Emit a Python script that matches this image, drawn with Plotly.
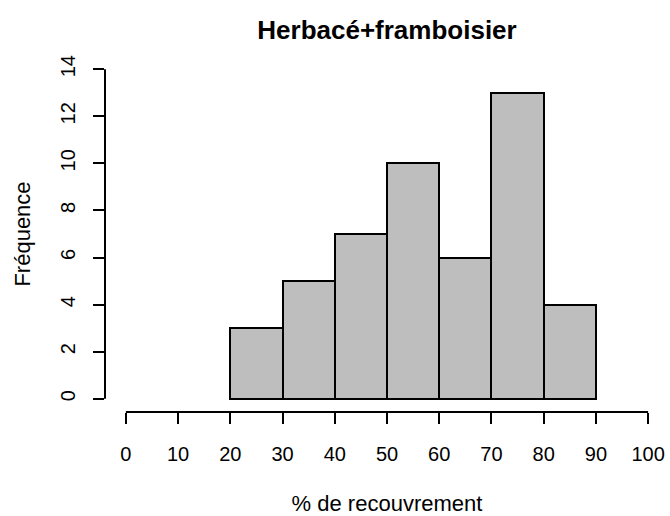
import plotly.graph_objects as go

bin_left = [20, 30, 40, 50, 60, 70, 80]
counts = [3, 5, 7, 10, 6, 13, 4]
bin_width = 10
x_ticks = [0, 10, 20, 30, 40, 50, 60, 70, 80, 90, 100]
y_ticks = [0, 2, 4, 6, 8, 10, 12, 14]

centers = [b + bin_width / 2 for b in bin_left]

FONT = "Liberation Sans, Arial, Helvetica, sans-serif"

W, H = 670, 516

fig = go.Figure()
fig.add_trace(go.Bar(
    x=centers, y=counts, width=[bin_width] * len(counts),
    marker=dict(color="#BEBEBE", line=dict(color="black", width=2)),
    hoverinfo="x+y",
))

fig.update_layout(
    width=W, height=H,
    margin=dict(l=105, r=1, t=56, b=104),
    paper_bgcolor="white", plot_bgcolor="white",
    showlegend=False,
    bargap=0,
    font=dict(family=FONT, size=22, color="black"),
    title=dict(text="<b>Herbacé+framboisier</b>", x=0.5, xref="paper",
               xanchor="center", y=1 - 30 / H, yanchor="middle",
               font=dict(size=26, family=FONT, color="black")),
    xaxis=dict(range=[-4, 104], tickvals=x_ticks, ticktext=[str(v) for v in x_ticks],
               showgrid=False, zeroline=False, showline=False, automargin=False,
               ticks="outside", ticklen=11, tickwidth=2, tickcolor="black",
               tickfont=dict(size=20), ticklabelstandoff=13,
               title=dict(text="% de recouvrement", font=dict(size=22), standoff=36)),
    yaxis=dict(range=[-0.56, 14.56], tickvals=y_ticks, ticktext=[str(v) for v in y_ticks],
               showgrid=False, zeroline=False, showline=False, automargin=False,
               ticks="outside", ticklen=11, tickwidth=2, tickcolor="black",
               tickangle=-90, tickfont=dict(size=20), ticklabelstandoff=10,
               title=dict(text="Fréquence", font=dict(size=22), standoff=20)),
    shapes=[
        dict(type="line", xref="x", yref="paper", x0=x_ticks[0], x1=x_ticks[-1], y0=0, y1=0,
             line=dict(color="black", width=2)),
        dict(type="line", xref="paper", yref="y", x0=0, x1=0, y0=y_ticks[0], y1=y_ticks[-1],
             line=dict(color="black", width=2)),
    ],
)

fig.write_html("out.html", config={"displayModeBar": False},
               post_script="document.body.style.margin='0';document.body.style.overflow='hidden';")
